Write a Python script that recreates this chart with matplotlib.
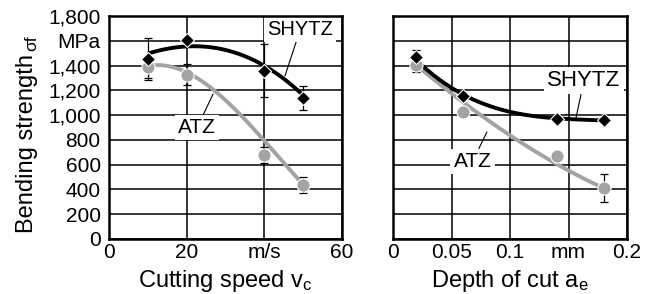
import numpy as np
import matplotlib
matplotlib.use("Agg")
import matplotlib.pyplot as plt

plt.rcParams['font.family'] = ['Liberation Sans', 'DejaVu Sans']
plt.rcParams['mathtext.fontset'] = 'custom'
plt.rcParams['mathtext.rm'] = 'Liberation Sans'
plt.rcParams['mathtext.it'] = 'Liberation Sans'

# ---- Left panel: cutting speed ----
speed = [10, 20, 40, 50]
shytz_speed = [1455, 1605, 1360, 1137]
shytz_speed_err = [170, 0, 215, 95]
atz_speed = [1390, 1326, 679, 437]
atz_speed_err = [90, 85, 65, 65]
# trend curve readings
speed_trend_x = [10, 20, 30, 40, 50]
shytz_speed_trend = [1496, 1557, 1522, 1401, 1159]
atz_speed_trend = [1396, 1347, 1118, 795, 437]

# ---- Right panel: depth of cut ----
depth = [0.02, 0.06, 0.14, 0.18]
shytz_depth = [1469, 1154, 970, 957]
shytz_depth_err = [60, 0, 0, 0]
atz_depth = [1407, 1024, 671, 410]
atz_depth_err = [55, 0, 0, 115]
depth_trend_x = [0.02, 0.06, 0.10, 0.14, 0.18]
shytz_depth_trend = [1445, 1160, 1035, 968, 958]
atz_depth_trend = [1401, 1105, 835, 606, 410]

yticks = [0, 200, 400, 600, 800, 1000, 1200, 1400, 1600, 1800]
ytick_labels = ['0', '200', '400', '600', '800', '1,000', '1,200', '1,400', 'MPa', '1,800']
speed_ticks = [0, 20, 40, 60]
speed_tick_labels = ['0', '20', 'm/s', '60']
depth_ticks = [0, 0.05, 0.1, 0.15, 0.2]
depth_tick_labels = ['0', '0.05', '0.1', 'mm', '0.2']

GRAY = '#a3a3a3'
FS = 15
LFS = 17

fig = plt.figure(figsize=(6.46, 2.94), dpi=100)
axL = fig.add_axes([109/646, 55/294, 233/646, 223/294])
axR = fig.add_axes([393/646, 55/294, 234/646, 223/294])


def style(ax, xlim, xt, xtl):
    ax.set_xlim(*xlim)
    ax.set_ylim(0, 1800)
    ax.set_xticks(xt)
    ax.set_xticklabels(xtl, fontsize=FS)
    ax.set_yticks(yticks)
    ax.grid(True, color='black', lw=1.1, zorder=0)
    ax.set_axisbelow(True)
    for s in ax.spines.values():
        s.set_linewidth(1.8)
        s.set_zorder(5)
    ax.tick_params(length=0, pad=3)


style(axL, (0, 60), speed_ticks, speed_tick_labels)
axL.set_yticklabels(ytick_labels, fontsize=FS)
axL.tick_params(axis='y', pad=6)
style(axR, (0, 0.2), depth_ticks, depth_tick_labels)
axR.set_yticklabels([])

axL.set_xlabel(r'Cutting speed v$_\mathrm{c}$', fontsize=LFS, labelpad=4.5)
axR.set_xlabel(r'Depth of cut a$_\mathrm{e}$', fontsize=LFS, labelpad=4.5)

fig.text(27/646, (294-233)/294, 'Bending strength', rotation=90, fontsize=LFS,
         ha='center', va='bottom')
fig.text(32/646, (294-51)/294, 'σf', rotation=90, fontsize=12.5,
         ha='center', va='bottom')


def draw(ax, x, y, err, tx, ty, color, marker, ms):
    c = np.polyfit(tx, ty, 3)
    xx = np.linspace(tx[0], tx[-1], 200)
    ax.plot(xx, np.polyval(c, xx), color=color, lw=2.8, zorder=3,
            solid_capstyle='butt')
    ax.errorbar(x, y, yerr=err, fmt='none', ecolor='black', elinewidth=0.9,
                capsize=3, capthick=0.9, zorder=4)
    ax.plot(x, y, ls='none', marker=marker, color=color, ms=ms,
            markeredgecolor='white', markeredgewidth=0.8, zorder=6)


draw(axL, speed, atz_speed, atz_speed_err, speed_trend_x, atz_speed_trend,
     GRAY, 'o', 9.5)
draw(axL, speed, shytz_speed, shytz_speed_err, speed_trend_x, shytz_speed_trend,
     'black', 'D', 7)
draw(axR, depth, atz_depth, atz_depth_err, depth_trend_x, atz_depth_trend,
     GRAY, 'o', 9.5)
draw(axR, depth, shytz_depth, shytz_depth_err, depth_trend_x, shytz_depth_trend,
     'black', 'D', 7)

box = dict(boxstyle='square,pad=0.15', fc='white', ec='none')
arrow = dict(arrowstyle='-', color='black', lw=0.8, shrinkA=0, shrinkB=0)

axL.annotate('SHYTZ', xy=(45.3, 1316), xytext=(49.3, 1695), fontsize=14.5,
             ha='center', va='center', bbox=box, arrowprops=arrow, zorder=4)
axL.annotate('ATZ', xy=(26.8, 1170), xytext=(22.7, 900), fontsize=15,
             ha='center', va='center', bbox=box, arrowprops=arrow, zorder=4)
axR.annotate('SHYTZ', xy=(0.1564, 977), xytext=(0.1632, 1279), fontsize=16,
             ha='center', va='center', bbox=box, arrowprops=arrow, zorder=4)
axR.annotate('ATZ', xy=(0.0803, 864), xytext=(0.068, 626), fontsize=15,
             ha='center', va='center', bbox=box, arrowprops=arrow, zorder=4)

fig.savefig('out.png', dpi=100)
